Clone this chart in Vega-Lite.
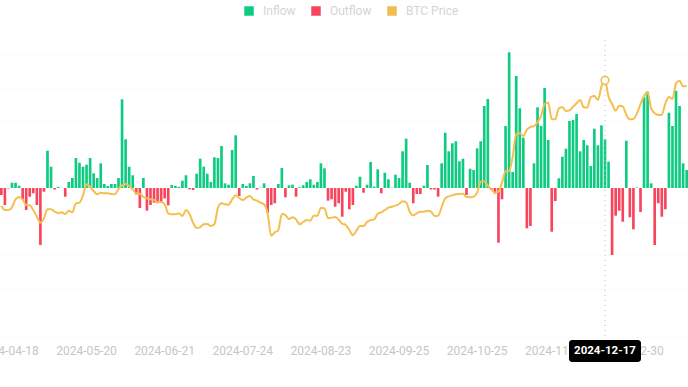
{
  "$schema": "https://vega.github.io/schema/vega-lite/v6.json",
  "autosize": "none",
  "width": 688,
  "height": 297,
  "padding": {"left": 0, "top": 40, "right": 0, "bottom": 50},
  "background": "white",
  "config": {"view": {"stroke": null}, "font": "Roboto"},
  "data": {"values": [
    {"date":"2024-04-16","flow":-70,"price":64164},
    {"date":"2024-04-17","flow":-170,"price":62710},
    {"date":"2024-04-18","flow":-5,"price":62710},
    {"date":"2024-04-19","flow":53,"price":63605},
    {"date":"2024-04-22","flow":53,"price":66290},
    {"date":"2024-04-23","flow":23,"price":67073},
    {"date":"2024-04-24","flow":-113,"price":66178},
    {"date":"2024-04-25","flow":-220,"price":64388},
    {"date":"2024-04-26","flow":-87,"price":64276},
    {"date":"2024-04-29","flow":-53,"price":62710},
    {"date":"2024-04-30","flow":-170,"price":60472},
    {"date":"2024-05-01","flow":-570,"price":58459},
    {"date":"2024-05-02","flow":-37,"price":59913},
    {"date":"2024-05-03","flow":373,"price":62933},
    {"date":"2024-05-06","flow":213,"price":62933},
    {"date":"2024-05-07","flow":-15,"price":62150},
    {"date":"2024-05-08","flow":10,"price":61703},
    {"date":"2024-05-09","flow":2,"price":61927},
    {"date":"2024-05-10","flow":-87,"price":61367},
    {"date":"2024-05-13","flow":60,"price":62486},
    {"date":"2024-05-14","flow":100,"price":61927},
    {"date":"2024-05-15","flow":300,"price":64947},
    {"date":"2024-05-16","flow":253,"price":65170},
    {"date":"2024-05-17","flow":213,"price":67631},
    {"date":"2024-05-20","flow":233,"price":71322},
    {"date":"2024-05-21","flow":300,"price":70540},
    {"date":"2024-05-22","flow":147,"price":69085},
    {"date":"2024-05-23","flow":100,"price":67967},
    {"date":"2024-05-24","flow":247,"price":68526},
    {"date":"2024-05-28","flow":40,"price":68302},
    {"date":"2024-05-29","flow":20,"price":68302},
    {"date":"2024-05-30","flow":40,"price":68078},
    {"date":"2024-05-31","flow":40,"price":67967},
    {"date":"2024-06-03","flow":100,"price":69756},
    {"date":"2024-06-04","flow":887,"price":70986},
    {"date":"2024-06-05","flow":487,"price":71434},
    {"date":"2024-06-06","flow":213,"price":70763},
    {"date":"2024-06-07","flow":127,"price":69644},
    {"date":"2024-06-10","flow":-65,"price":68302},
    {"date":"2024-06-11","flow":-200,"price":68190},
    {"date":"2024-06-12","flow":100,"price":67073},
    {"date":"2024-06-13","flow":-226,"price":66624},
    {"date":"2024-06-14","flow":-170,"price":66290},
    {"date":"2024-06-17","flow":-146,"price":66065},
    {"date":"2024-06-18","flow":-152,"price":65394},
    {"date":"2024-06-20","flow":-140,"price":65394},
    {"date":"2024-06-21","flow":-105,"price":64611},
    {"date":"2024-06-24","flow":-174,"price":61591},
    {"date":"2024-06-25","flow":31,"price":61255},
    {"date":"2024-06-26","flow":21,"price":61255},
    {"date":"2024-06-27","flow":11,"price":61591},
    {"date":"2024-06-28","flow":73,"price":60694},
    {"date":"2024-07-01","flow":127,"price":62710},
    {"date":"2024-07-02","flow":-13,"price":61367},
    {"date":"2024-07-03","flow":-20,"price":58459},
    {"date":"2024-07-05","flow":143,"price":56669},
    {"date":"2024-07-08","flow":293,"price":57005},
    {"date":"2024-07-09","flow":213,"price":57900},
    {"date":"2024-07-10","flow":143,"price":58011},
    {"date":"2024-07-11","flow":60,"price":57340},
    {"date":"2024-07-12","flow":307,"price":57900},
    {"date":"2024-07-15","flow":300,"price":63493},
    {"date":"2024-07-16","flow":420,"price":64947},
    {"date":"2024-07-17","flow":47,"price":64611},
    {"date":"2024-07-18","flow":33,"price":64500},
    {"date":"2024-07-19","flow":380,"price":66290},
    {"date":"2024-07-22","flow":527,"price":67631},
    {"date":"2024-07-23","flow":-80,"price":66737},
    {"date":"2024-07-24","flow":40,"price":66065},
    {"date":"2024-07-25","flow":20,"price":66849},
    {"date":"2024-07-26","flow":47,"price":67408},
    {"date":"2024-07-29","flow":120,"price":66290},
    {"date":"2024-07-30","flow":-15,"price":65842},
    {"date":"2024-07-31","flow":3,"price":65170},
    {"date":"2024-08-01","flow":47,"price":64611},
    {"date":"2024-08-02","flow":-247,"price":61591},
    {"date":"2024-08-05","flow":-170,"price":54095},
    {"date":"2024-08-06","flow":-153,"price":55213},
    {"date":"2024-08-07","flow":40,"price":55996},
    {"date":"2024-08-08","flow":200,"price":61367},
    {"date":"2024-08-09","flow":-93,"price":61031},
    {"date":"2024-08-12","flow":27,"price":59689},
    {"date":"2024-08-13","flow":33,"price":60248},
    {"date":"2024-08-14","flow":-87,"price":59577},
    {"date":"2024-08-15","flow":7,"price":57900},
    {"date":"2024-08-16","flow":27,"price":58683},
    {"date":"2024-08-19","flow":60,"price":59354},
    {"date":"2024-08-20","flow":87,"price":59130},
    {"date":"2024-08-21","flow":33,"price":60808},
    {"date":"2024-08-22","flow":60,"price":60808},
    {"date":"2024-08-23","flow":247,"price":63493},
    {"date":"2024-08-26","flow":197,"price":63269},
    {"date":"2024-08-27","flow":-127,"price":60025},
    {"date":"2024-08-28","flow":-113,"price":60137},
    {"date":"2024-08-29","flow":-187,"price":60360},
    {"date":"2024-08-30","flow":-153,"price":59465},
    {"date":"2024-09-03","flow":-287,"price":58123},
    {"date":"2024-09-04","flow":-37,"price":57676},
    {"date":"2024-09-05","flow":-213,"price":55996},
    {"date":"2024-09-06","flow":-170,"price":54208},
    {"date":"2024-09-09","flow":23,"price":55774},
    {"date":"2024-09-10","flow":113,"price":57340},
    {"date":"2024-09-11","flow":-47,"price":57340},
    {"date":"2024-09-12","flow":33,"price":58683},
    {"date":"2024-09-13","flow":260,"price":59354},
    {"date":"2024-09-16","flow":13,"price":59577},
    {"date":"2024-09-17","flow":187,"price":61479},
    {"date":"2024-09-18","flow":-53,"price":61927},
    {"date":"2024-09-19","flow":153,"price":62710},
    {"date":"2024-09-20","flow":87,"price":63493},
    {"date":"2024-09-23","flow":3,"price":63828},
    {"date":"2024-09-24","flow":133,"price":64164},
    {"date":"2024-09-25","flow":100,"price":64723},
    {"date":"2024-09-26","flow":367,"price":65618},
    {"date":"2024-09-27","flow":493,"price":65282},
    {"date":"2024-09-30","flow":53,"price":62150},
    {"date":"2024-10-01","flow":-153,"price":60919},
    {"date":"2024-10-02","flow":-60,"price":61591},
    {"date":"2024-10-03","flow":-60,"price":62150},
    {"date":"2024-10-04","flow":23,"price":62150},
    {"date":"2024-10-07","flow":230,"price":62486},
    {"date":"2024-10-08","flow":-15,"price":62150},
    {"date":"2024-10-09","flow":-15,"price":60694},
    {"date":"2024-10-10","flow":-87,"price":60808},
    {"date":"2024-10-11","flow":247,"price":63717},
    {"date":"2024-10-14","flow":553,"price":66624},
    {"date":"2024-10-15","flow":367,"price":67296},
    {"date":"2024-10-16","flow":447,"price":67631},
    {"date":"2024-10-17","flow":467,"price":67967},
    {"date":"2024-10-18","flow":267,"price":68078},
    {"date":"2024-10-21","flow":293,"price":68190},
    {"date":"2024-10-22","flow":-70,"price":67073},
    {"date":"2024-10-23","flow":193,"price":66960},
    {"date":"2024-10-24","flow":180,"price":67185},
    {"date":"2024-10-25","flow":397,"price":68526},
    {"date":"2024-10-28","flow":467,"price":72218},
    {"date":"2024-10-29","flow":820,"price":72329},
    {"date":"2024-10-30","flow":890,"price":70875},
    {"date":"2024-10-31","flow":-20,"price":69644},
    {"date":"2024-11-01","flow":-55,"price":68526},
    {"date":"2024-11-04","flow":-547,"price":68862},
    {"date":"2024-11-05","flow":-113,"price":71882},
    {"date":"2024-11-06","flow":620,"price":75685},
    {"date":"2024-11-07","flow":1357,"price":75797},
    {"date":"2024-11-08","flow":160,"price":80607},
    {"date":"2024-11-11","flow":1120,"price":88213},
    {"date":"2024-11-12","flow":797,"price":88437},
    {"date":"2024-11-13","flow":503,"price":87542},
    {"date":"2024-11-14","flow":-403,"price":89667},
    {"date":"2024-11-15","flow":-380,"price":90563},
    {"date":"2024-11-18","flow":247,"price":90898},
    {"date":"2024-11-19","flow":807,"price":92128},
    {"date":"2024-11-20","flow":620,"price":94254},
    {"date":"2024-11-21","flow":1000,"price":98281},
    {"date":"2024-11-22","flow":480,"price":98728},
    {"date":"2024-11-25","flow":-437,"price":93247},
    {"date":"2024-11-26","flow":-130,"price":93135},
    {"date":"2024-11-27","flow":97,"price":96827},
    {"date":"2024-11-29","flow":313,"price":97162},
    {"date":"2024-12-02","flow":393,"price":95932},
    {"date":"2024-12-03","flow":670,"price":96155},
    {"date":"2024-12-04","flow":680,"price":97386},
    {"date":"2024-12-05","flow":740,"price":98505},
    {"date":"2024-12-06","flow":367,"price":99623},
    {"date":"2024-12-09","flow":480,"price":97162},
    {"date":"2024-12-10","flow":427,"price":97050},
    {"date":"2024-12-11","flow":220,"price":100630},
    {"date":"2024-12-12","flow":593,"price":100966},
    {"date":"2024-12-13","flow":427,"price":99623},
    {"date":"2024-12-16","flow":627,"price":104098},
    {"date":"2024-12-17","flow":487,"price":106223},
    {"date":"2024-12-18","flow":263,"price":100742},
    {"date":"2024-12-19","flow":-670,"price":98281},
    {"date":"2024-12-20","flow":-277,"price":96044},
    {"date":"2024-12-23","flow":-227,"price":97722},
    {"date":"2024-12-24","flow":-337,"price":97498},
    {"date":"2024-12-26","flow":473,"price":94590},
    {"date":"2024-12-27","flow":-293,"price":93135},
    {"date":"2024-12-30","flow":-413,"price":93247},
    {"date":"2024-12-31","flow":5,"price":95149},
    {"date":"2025-01-02","flow":-240,"price":98281},
    {"date":"2025-01-03","flow":907,"price":100966},
    {"date":"2025-01-06","flow":963,"price":102308},
    {"date":"2025-01-07","flow":47,"price":96827},
    {"date":"2025-01-08","flow":-570,"price":95149},
    {"date":"2025-01-10","flow":-153,"price":94590},
    {"date":"2025-01-13","flow":-287,"price":94701},
    {"date":"2025-01-14","flow":-213,"price":98505},
    {"date":"2025-01-15","flow":753,"price":100630},
    {"date":"2025-01-16","flow":620,"price":99956},
    {"date":"2025-01-17","flow":973,"price":105216},
    {"date":"2025-01-21","flow":820,"price":106111},
    {"date":"2025-01-22","flow":247,"price":104209},
    {"date":"2025-01-23","flow":180,"price":104321}
  ]},
  "encoding": {
    "x": {
      "field": "date", "type": "ordinal",
      "scale": {"paddingInner": 0.25, "paddingOuter": 0},
      "axis": {
        "title": null,
        "values": ["2024-04-18","2024-05-20","2024-06-21","2024-07-24","2024-08-23","2024-09-25","2024-10-25","2024-11-26","2024-12-30"],
        "labelAngle": 0, "ticks": false, "grid": false,
        "domainColor": "#ececec", "domainDash": [1, 3],
        "labelColor": "#c6c6c6", "labelFont": "Roboto", "labelFontSize": 12,
        "labelPadding": 8, "labelOverlap": false, "labelBound": false, "labelFlush": false
      }
    }
  },
  "layer": [
    {
      "transform": [{"calculate": "datum.flow >= 0 ? 'Inflow' : 'Outflow'", "as": "type"}],
      "mark": {"type": "bar"},
      "encoding": {
        "y": {
          "field": "flow", "type": "quantitative",
          "scale": {"domain": [-1490, 1480], "nice": false, "zero": false},
          "axis": {
            "title": null, "labels": false, "ticks": false, "domain": false,
            "values": [1340, 1005, 670, 335, -335, -670, -1005, -1340],
            "gridColor": "#f0f0f0", "gridDash": [1, 3]
          }
        },
        "color": {
          "field": "type", "type": "nominal",
          "scale": {"domain": ["Inflow", "Outflow", "BTC Price"], "range": ["#0ecb81", "#f6465d", "#f0bd4e"]},
          "legend": {
            "title": null, "orient": "none", "direction": "horizontal",
            "legendX": 243, "legendY": -35,
            "symbolType": "square", "symbolSize": 90, "symbolStrokeWidth": 0,
            "labelFont": "Roboto", "labelFontSize": 12, "labelColor": "#d4d4d4",
            "labelOffset": 8, "columnPadding": 14
          }
        }
      }
    },
    {
      "mark": {"type": "line", "color": "#f5bf4f", "strokeWidth": 2, "interpolate": "monotone"},
      "encoding": {
        "y": {
          "field": "price", "type": "quantitative",
          "scale": {"domain": [20100, 119760], "nice": false, "zero": false},
          "axis": null
        }
      }
    },
    {
      "transform": [{"filter": "datum.date == '2024-12-17'"}],
      "mark": {"type": "rule", "color": "#bdbdbd", "strokeWidth": 1, "strokeDash": [1, 4]},
      "encoding": {}
    },
    {
      "transform": [{"filter": "datum.date == '2024-12-17'"}],
      "mark": {"type": "point", "filled": true, "fill": "white", "stroke": "#f0bd4e", "strokeWidth": 1.5, "size": 60, "opacity": 1},
      "encoding": {
        "y": {
          "field": "price", "type": "quantitative",
          "scale": {"domain": [20100, 119760], "nice": false, "zero": false},
          "axis": null
        }
      }
    },
    {
      "transform": [{"filter": "datum.date == '2024-12-17'"}],
      "mark": {"type": "bar", "width": 72, "color": "#000000", "cornerRadius": 3},
      "encoding": {
        "y": {"datum": -1520, "type": "quantitative", "scale": {"domain": [-1490, 1480], "nice": false, "zero": false}, "axis": null},
        "y2": {"datum": -1740}
      }
    },
    {
      "transform": [{"filter": "datum.date == '2024-12-17'"}],
      "mark": {"type": "text", "color": "white", "fontWeight": "bold", "fontSize": 11.5, "font": "Roboto", "baseline": "middle", "align": "center"},
      "encoding": {
        "y": {"datum": -1630, "type": "quantitative", "scale": {"domain": [-1490, 1480], "nice": false, "zero": false}, "axis": null},
        "text": {"field": "date"}
      }
    }
  ],
  "resolve": {"scale": {"y": "independent"}}
}
